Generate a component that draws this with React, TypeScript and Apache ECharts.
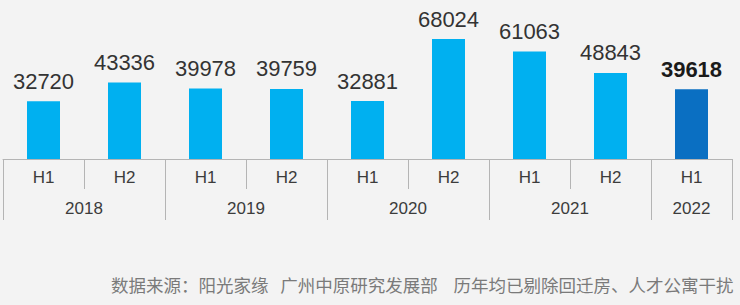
import React, { useEffect, useRef } from "react";
import * as echarts from "echarts";

const periods = ["H1", "H2", "H1", "H2", "H1", "H2", "H1", "H2", "H1"];
const values = [32720, 43336, 39978, 39759, 32881, 68024, 61063, 48843, 39618];
const years = ["2018", "2019", "2020", "2021", "2022"];
const yearCenters = [1, 3, 5, 7, 8.5];
const yearBounds = [0, 2, 4, 6, 8, 9];
const footer = "数据来源：阳光家缘   广州中原研究发展部    历年均已剔除回迁房、人才公寓干扰";

export default function App() {
  const ref = useRef<HTMLDivElement>(null);
  useEffect(() => {
    if (!ref.current) return;
    const chart = echarts.init(ref.current, undefined, { renderer: "svg" });
    const last = values.length - 1;
    chart.setOption({
      animation: false,
      backgroundColor: "#f3f3f3",
      title: {
        text: footer,
        left: 106,
        top: 271,
        textStyle: {
          fontSize: 17.5,
          fontWeight: "normal",
          color: "#7a7a7a",
          fontFamily: "Noto Sans CJK SC",
        },
      },
      grid: { left: 3, right: 8, top: 18, bottom: 146, containLabel: false },
      xAxis: [
        {
          type: "category",
          data: periods,
          position: "bottom",
          axisLine: { show: true, lineStyle: { color: "#b4b4b4", width: 1 } },
          axisTick: { show: true, interval: 0, length: 30, lineStyle: { color: "#b4b4b4" } },
          axisLabel: {
            interval: 0,
            margin: 10,
            fontSize: 17,
            color: "#3c3c3c",
            fontFamily: "Liberation Sans",
          },
        },
        {
          type: "value",
          min: 0,
          max: 9,
          position: "bottom",
          axisLine: { show: false },
          splitLine: { show: false },
          axisTick: {
            show: true,
            length: 61,
            customValues: yearBounds,
            lineStyle: { color: "#b4b4b4" },
          },
          axisLabel: {
            customValues: yearCenters,
            margin: 41,
            fontSize: 17,
            color: "#3c3c3c",
            fontFamily: "Liberation Sans",
            formatter: (v: number) => years[yearCenters.indexOf(v)] ?? "",
          },
        },
      ],
      yAxis: {
        type: "value",
        min: 0,
        max: 80000,
        show: false,
        splitLine: { show: false },
      },
      series: [
        {
          type: "bar",
          xAxisIndex: 0,
          barWidth: 33,
          data: values.map((v, i) => ({
            value: v,
            itemStyle: { color: i === last ? "#0a6fc2" : "#00b0f0" },
            label:
              i === last
                ? { fontWeight: "bold", color: "#1a1a1a" }
                : undefined,
          })),
          label: {
            show: true,
            position: "top",
            distance: 9,
            fontSize: 22,
            color: "#333333",
            fontFamily: "Liberation Sans",
          },
        },
      ],
    });
    return () => chart.dispose();
  }, []);
  return (
    <div
      ref={ref}
      style={{ position: "fixed", left: 0, top: 0, width: 740, height: 305 }}
    />
  );
}
